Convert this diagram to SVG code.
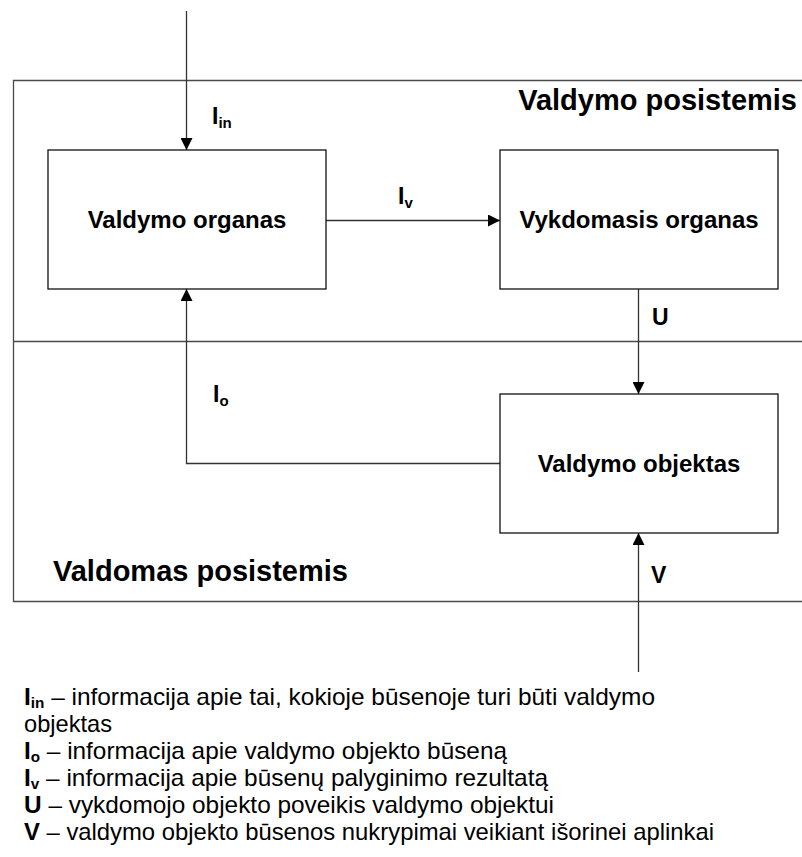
<svg xmlns="http://www.w3.org/2000/svg" width="802" height="857" viewBox="0 0 802 857">
  <style>
    .frame { fill: none; stroke: #4a4a4a; stroke-width: 1.3; }
    .box { fill: #ffffff; stroke: #111111; stroke-width: 1.3; }
    .conn { fill: none; stroke: #333333; stroke-width: 1.3; }
    .title { font-family: "Liberation Sans", Arial, sans-serif; font-weight: bold; font-size: 29px; fill: #000; }
    .node-label { font-family: "Liberation Sans", Arial, sans-serif; font-weight: bold; font-size: 24px; fill: #000; text-anchor: middle; }
    .sig { font-family: "Liberation Sans", Arial, sans-serif; font-weight: bold; font-size: 23px; fill: #000; }
    .sub { font-size: 15px; }
    .legend { font-family: "Liberation Sans", Arial, sans-serif; font-size: 24px; fill: #000; }
    .legend .b { font-weight: bold; }
  </style>
  <defs>
    <marker id="arrow" viewBox="0 0 12 12" refX="12" refY="6" markerWidth="12" markerHeight="12" markerUnits="userSpaceOnUse" orient="auto">
      <path d="M0,0 L12,6 L0,12 Z" fill="#000"/>
    </marker>
  </defs>

  <!-- subsystem frames -->
  <g id="subsystems">
    <path class="frame" d="M802,80.5 H13.5 V601.5 H802"/>
    <path class="frame" d="M13.5,341.5 H802"/>
    <text class="title" x="797" y="110" text-anchor="end">Valdymo posistemis</text>
    <text class="title" x="53" y="581">Valdomas posistemis</text>
  </g>

  <!-- connectors -->
  <g id="connectors">
    <path class="conn" d="M186.5,11 V150" marker-end="url(#arrow)"/>
    <path class="conn" d="M326,220.5 H500" marker-end="url(#arrow)"/>
    <path class="conn" d="M638.5,289 V394" marker-end="url(#arrow)"/>
    <path class="conn" d="M500,463.5 H186.5 V289" marker-end="url(#arrow)"/>
    <path class="conn" d="M638.5,672 V533" marker-end="url(#arrow)"/>
    <text class="sig" x="212" y="124">I<tspan class="sub" dy="4">in</tspan></text>
    <text class="sig" x="398" y="204">I<tspan class="sub" dy="4">v</tspan></text>
    <text class="sig" x="652" y="325">U</text>
    <text class="sig" x="213" y="402">I<tspan class="sub" dy="4">o</tspan></text>
    <text class="sig" x="651" y="583">V</text>
  </g>

  <g id="valdymo-organas">
    <rect class="box" x="48" y="150" width="278" height="139"/>
    <text class="node-label" x="187" y="228">Valdymo organas</text>
  </g>

  <g id="vykdomasis-organas">
    <rect class="box" x="500" y="150" width="278" height="139"/>
    <text class="node-label" x="639" y="228">Vykdomasis organas</text>
  </g>

  <g id="valdymo-objektas">
    <rect class="box" x="500" y="394" width="278" height="139"/>
    <text class="node-label" x="639" y="472">Valdymo objektas</text>
  </g>

  <!-- legend -->
  <g id="legend" class="legend">
    <text x="24" y="705" textLength="631" lengthAdjust="spacingAndGlyphs"><tspan class="b">I</tspan><tspan class="b" font-size="15" dy="3">in</tspan><tspan dy="-3"> – informacija apie tai, kokioje būsenoje turi būti valdymo</tspan></text>
    <text x="24" y="732" textLength="88" lengthAdjust="spacingAndGlyphs">objektas</text>
    <text x="24" y="759" textLength="483" lengthAdjust="spacingAndGlyphs"><tspan class="b">I</tspan><tspan class="b" font-size="15" dy="3">o</tspan><tspan dy="-3"> – informacija apie valdymo objekto būseną</tspan></text>
    <text x="24" y="786" textLength="524" lengthAdjust="spacingAndGlyphs"><tspan class="b">I</tspan><tspan class="b" font-size="15" dy="3">v</tspan><tspan dy="-3"> – informacija apie būsenų palyginimo rezultatą</tspan></text>
    <text x="24" y="813" textLength="530" lengthAdjust="spacingAndGlyphs"><tspan class="b">U</tspan> – vykdomojo objekto poveikis valdymo objektui</text>
    <text x="24" y="840" textLength="690" lengthAdjust="spacingAndGlyphs"><tspan class="b">V</tspan> – valdymo objekto būsenos nukrypimai veikiant išorinei aplinkai</text>
  </g>
</svg>
